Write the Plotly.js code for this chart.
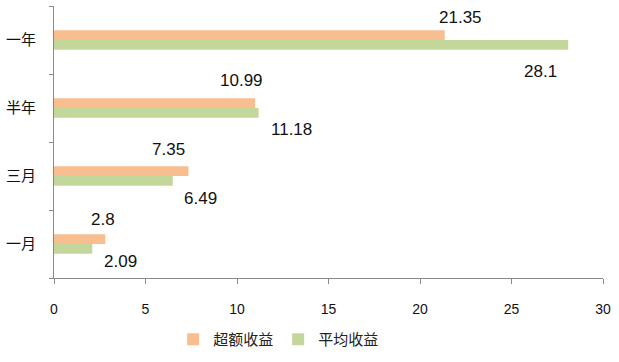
<!DOCTYPE html>
<html><head><meta charset="utf-8">
<script src="https://cdn.plot.ly/plotly-3.0.1.min.js"></script>
<style>html,body{margin:0;padding:0;background:#fff}#chart{width:619px;height:362px}</style>
</head><body><div id="chart"></div>
<script>
const categories = ['一月', '三月', '半年', '一年'];
const excessReturn = [2.8, 7.35, 10.99, 21.35];
const averageReturn = [2.09, 6.49, 11.18, 28.1];
const seriesNames = ['超额收益', '平均收益'];
const xTicks = [0, 5, 10, 15, 20, 25, 30];

// label offsets in pixels (styling only)
const excessShift = [[-2, 25], [-20, 27], [-14, 28], [16, 23]];
const averageShift = [[28, -17], [28, -22], [33, -21], [-28, -31]];

const traces = [
  {type: 'bar', orientation: 'h', name: seriesNames[1], y: categories, x: averageReturn,
   marker: {color: '#C4D79B'}, legendrank: 2, hoverinfo: 'none'},
  {type: 'bar', orientation: 'h', name: seriesNames[0], y: categories, x: excessReturn,
   marker: {color: '#F9BE8F'}, legendrank: 1, hoverinfo: 'none'}
];

const annotations = [];
categories.forEach((c, i) => {
  annotations.push({x: excessReturn[i], y: c, text: String(excessReturn[i]), showarrow: false,
    xanchor: 'center', yanchor: 'middle', xshift: excessShift[i][0], yshift: excessShift[i][1],
    font: {family: 'Liberation Sans, Arial', size: 17, color: '#111'}});
  annotations.push({x: averageReturn[i], y: c, text: String(averageReturn[i]), showarrow: false,
    xanchor: 'center', yanchor: 'middle', xshift: averageShift[i][0], yshift: averageShift[i][1],
    font: {family: 'Liberation Sans, Arial', size: 17, color: '#111'}});
});

const layout = {
  width: 619, height: 362,
  margin: {l: 54, r: 16, t: 6, b: 79},
  paper_bgcolor: '#fff', plot_bgcolor: '#fff',
  barmode: 'group', bargap: 0.71, bargroupgap: 0,
  showlegend: true,
  legend: {orientation: 'h', x: 0.217, xanchor: 'left', y: -0.165, yanchor: 'top',
    font: {family: 'Noto Sans CJK SC', size: 15, color: '#222'}, itemwidth: 30, tracegroupgap: 0},
  xaxis: {range: [0, 30], tickvals: xTicks, ticktext: xTicks.map(String),
    showgrid: false, zeroline: false, showline: true, linecolor: '#8a8a8a', linewidth: 1,
    ticks: 'outside', ticklen: 5, tickcolor: '#8a8a8a', ticklabelstandoff: 13,
    tickfont: {family: 'Liberation Sans, Arial', size: 14, color: '#111'}, fixedrange: true},
  yaxis: {type: 'category', categoryorder: 'array', categoryarray: categories, range: [-0.5, 3.5],
    showgrid: false, zeroline: false, showline: true, linecolor: '#8a8a8a', linewidth: 1,
    ticks: 'outside', ticklen: 4, tickcolor: '#8a8a8a', tickson: 'boundaries', ticklabelstandoff: 14,
    tickfont: {family: 'Noto Sans CJK SC', size: 15, color: '#111'}, fixedrange: true},
  annotations: annotations
};

Plotly.newPlot('chart', traces, layout, {displayModeBar: false, staticPlot: true});
</script>
</body></html>
